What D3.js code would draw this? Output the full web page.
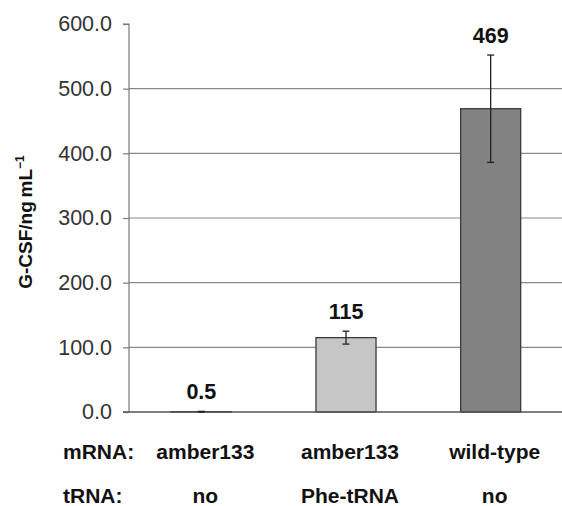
<!DOCTYPE html>
<html><head><meta charset="utf-8">
<script src="https://cdn.jsdelivr.net/npm/d3@7"></script>
<style>body{margin:0;background:#fff;}svg{display:block;font-family:"Liberation Sans",Arial,sans-serif;}</style>
</head><body>
<svg id="c" width="562" height="506"></svg>
<script>
const categories = ["c1", "c2", "c3"];
const mRNA = ["amber133", "amber133", "wild-type"];
const tRNA = ["no", "Phe-tRNA", "no"];
const values = [0.5, 115, 469];
const errors = [0.5, 10, 83];
const valueLabels = ["0.5", "115", "469"];
const yTicks = [0, 100, 200, 300, 400, 500, 600];
const barColors = ["#c6c6c6", "#c6c6c6", "#828282"];

const svg = d3.select("#c");
const x = d3.scaleBand().domain(categories).range([129, 563]).paddingInner(0.585).paddingOuter(0.2925);
const y = d3.scaleLinear().domain([0, 600]).range([412, 24]);

// grid lines
svg.append("g").selectAll("line").data(yTicks.filter(d => d > 0 && d < 600)).join("line")
  .attr("x1", 129).attr("x2", 562).attr("y1", d => y(d)).attr("y2", d => y(d))
  .attr("stroke", "#8a8a8a").attr("stroke-width", 1.2);

// y axis
const yAxis = d3.axisLeft(y).tickValues(yTicks).tickFormat(d3.format(".1f")).tickSize(6).tickPadding(11);
const gy = svg.append("g").attr("transform", "translate(129,0)").call(yAxis);
gy.select(".domain").attr("stroke", "#7a7a7a").attr("stroke-width", 1.2).attr("d", `M-6,${y(600)}H0V${y(0)}`);
gy.selectAll(".tick line").attr("stroke", "#7a7a7a").attr("stroke-width", 1.2);
gy.selectAll(".tick text").attr("fill", "#333").attr("font-size", 21.5).attr("font-family", "Liberation Sans, Arial, sans-serif");

// bars
svg.append("g").selectAll("rect").data(categories).join("rect")
  .attr("x", d => x(d)).attr("width", x.bandwidth())
  .attr("y", (d, i) => y(values[i])).attr("height", (d, i) => y(0) - y(values[i]))
  .attr("fill", (d, i) => barColors[i]).attr("stroke", "#3a3a3a").attr("stroke-width", 1.3);

// x baseline
svg.append("line").attr("x1", 123).attr("x2", 562).attr("y1", y(0)).attr("y2", y(0))
  .attr("stroke", "#555").attr("stroke-width", 1.5);

// error bars
const eg = svg.append("g").attr("stroke", "#222").attr("stroke-width", 1.3);
categories.forEach((c, i) => {
  const cx = x(c) + x.bandwidth() / 2;
  const top = y(values[i] + errors[i]), bot = y(Math.max(0, values[i] - errors[i]));
  eg.append("line").attr("x1", cx).attr("x2", cx).attr("y1", top).attr("y2", bot);
  eg.append("line").attr("x1", cx - 3.5).attr("x2", cx + 3.5).attr("y1", top).attr("y2", top);
  eg.append("line").attr("x1", cx - 3.5).attr("x2", cx + 3.5).attr("y1", bot).attr("y2", bot);
});

// value labels
svg.append("g").selectAll("text").data(categories).join("text")
  .attr("x", d => x(d) + x.bandwidth() / 2)
  .attr("y", (d, i) => y(values[i] + errors[i]) - 12)
  .attr("text-anchor", "middle").attr("font-weight", "bold").attr("font-size", 21.5).attr("fill", "#111")
  .text((d, i) => valueLabels[i]);

// row labels
const fs = 21;
svg.append("text").attr("x", 63).attr("y", 459).attr("font-weight", "bold").attr("font-size", fs).attr("fill", "#111").text("mRNA:");
svg.append("text").attr("x", 63).attr("y", 503).attr("font-weight", "bold").attr("font-size", fs).attr("fill", "#111").text("tRNA:");
svg.append("g").selectAll("text").data(categories).join("text")
  .attr("x", d => x(d) + x.bandwidth() / 2 + 4).attr("y", 459)
  .attr("text-anchor", "middle").attr("font-weight", "bold").attr("font-size", fs).attr("fill", "#111")
  .text((d, i) => mRNA[i]);
svg.append("g").selectAll("text").data(categories).join("text")
  .attr("x", d => x(d) + x.bandwidth() / 2 + 4).attr("y", 503)
  .attr("text-anchor", "middle").attr("font-weight", "bold").attr("font-size", fs).attr("fill", "#111")
  .text((d, i) => tRNA[i]);

// y title
const yt = svg.append("text").attr("transform", "translate(32,222) rotate(-90)")
  .attr("text-anchor", "middle").attr("font-weight", "bold").attr("font-size", 19).attr("fill", "#111");
yt.append("tspan").text("G-CSF/ng\u2009mL");
yt.append("tspan").attr("dy", -8).attr("font-size", 12).text("\u22121");
</script>
</body></html>
